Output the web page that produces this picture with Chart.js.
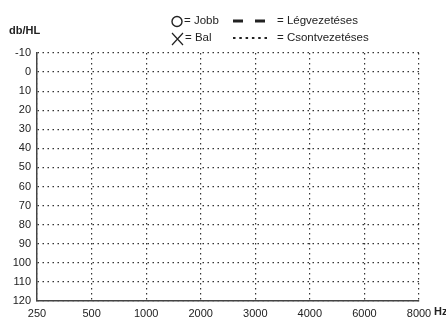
<!DOCTYPE html>
<html>
<head>
<meta charset="utf-8">
<script src="https://cdn.jsdelivr.net/npm/chart.js@4/dist/chart.umd.min.js"></script>
<style>
    html, body { margin: 0; padding: 0; background: #fff; }
    #wrap { position: relative; width: 446px; height: 318px; overflow: hidden; }
</style>
</head>
<body>
<div id="wrap"><canvas id="audiogram" width="446" height="318"></canvas></div>
<script>
// ========================================
// DATA
// ========================================

// frequencies (Hz) along the bottom
const freqLabels = ['250', '500', '1000', '2000', '3000', '4000', '6000', '8000'];

// hearing level scale (dB HL), drawn top to bottom
const dbMin = -10;
const dbMax = 120;
const dbStep = 10;

// blank audiogram: no thresholds recorded yet
const jobbValues = [null, null, null, null, null, null, null, null];
const balValues = [null, null, null, null, null, null, null, null];

// legend text
const symbolLabels = ['Jobb', 'Bal'];
const lineLabels = ['Légvezetéses', 'Csontvezetéses'];

const yTitle = 'db/HL';
const xUnit = 'Hz';

// ========================================
// LEGEND + AXIS TITLES PLUGIN
// ========================================

const FONT = '"Liberation Sans", Arial, sans-serif';
const INK = '#222';

const audiogramLegend = {
    id: 'audiogramLegend',
    afterDraw(chart) {
        const ctx = chart.ctx;
        ctx.save();
        ctx.fillStyle = INK;
        ctx.strokeStyle = INK;
        ctx.textBaseline = 'middle';

        // axis titles
        ctx.font = 'bold 11px ' + FONT;
        ctx.textAlign = 'left';
        ctx.fillText(yTitle, 9, 31);
        ctx.fillText(xUnit, 434, 312);

        ctx.font = '11.5px ' + FONT;

        // O = Jobb
        ctx.lineWidth = 1.4;
        ctx.beginPath();
        ctx.arc(177, 21.5, 5, 0, Math.PI * 2);
        ctx.stroke();
        ctx.fillText('= ' + symbolLabels[0], 184, 21);

        // X = Bal
        ctx.lineWidth = 1.2;
        ctx.beginPath();
        ctx.moveTo(172, 33); ctx.lineTo(183, 45);
        ctx.moveTo(183, 33); ctx.lineTo(172, 45);
        ctx.stroke();
        ctx.fillText('= ' + symbolLabels[1], 185, 38);

        // dashed = air conduction
        ctx.lineWidth = 2.8;
        ctx.setLineDash([10, 12]);
        ctx.beginPath();
        ctx.moveTo(233, 21); ctx.lineTo(266, 21);
        ctx.stroke();
        ctx.setLineDash([]);
        ctx.fillText('= ' + lineLabels[0], 277, 21);

        // dotted = bone conduction
        ctx.lineWidth = 2;
        ctx.setLineDash([2.5, 3.8]);
        ctx.beginPath();
        ctx.moveTo(233, 38); ctx.lineTo(270, 38);
        ctx.stroke();
        ctx.setLineDash([]);
        ctx.fillText('= ' + lineLabels[1], 277, 38);

        ctx.restore();
    }
};

// ========================================
// CHART
// ========================================

const gridStyle = {
    display: true,
    color: '#333',
    lineWidth: 1.2,
    drawTicks: false
};

new Chart(document.getElementById('audiogram'), {
    type: 'line',
    data: {
        labels: freqLabels,
        datasets: [
            {
                label: symbolLabels[0],
                data: jobbValues,
                borderColor: INK,
                pointStyle: 'circle',
                borderDash: [10, 12]
            },
            {
                label: symbolLabels[1],
                data: balValues,
                borderColor: INK,
                pointStyle: 'crossRot',
                borderDash: [2, 3]
            }
        ]
    },
    options: {
        responsive: false,
        animation: false,
        layout: { padding: { left: 0, top: 53, right: 27, bottom: 0 } },
        plugins: {
            legend: { display: false },
            tooltip: { enabled: false }
        },
        scales: {
            x: {
                type: 'category',
                offset: false,
                grid: gridStyle,
                border: { display: true, color: '#444', width: 1.5, dash: [1.5, 3.5] },
                ticks: {
                    color: INK,
                    padding: 6,
                    maxRotation: 0,
                    autoSkip: false,
                    font: { family: FONT, size: 11 }
                },
                afterFit: (scale) => { scale.height = 17; scale.paddingLeft = 0; scale.paddingRight = 0; }
            },
            y: {
                reverse: true,
                min: dbMin,
                max: dbMax,
                grid: gridStyle,
                border: { display: true, color: '#444', width: 1.5, dash: [1.5, 3.5] },
                ticks: {
                    stepSize: dbStep,
                    color: INK,
                    padding: 6,
                    font: { family: FONT, size: 11 }
                },
                afterFit: (scale) => { scale.width = 37; scale.paddingTop = 0; scale.paddingBottom = 0; }
            }
        }
    },
    plugins: [audiogramLegend]
});
</script>
</body>
</html>
